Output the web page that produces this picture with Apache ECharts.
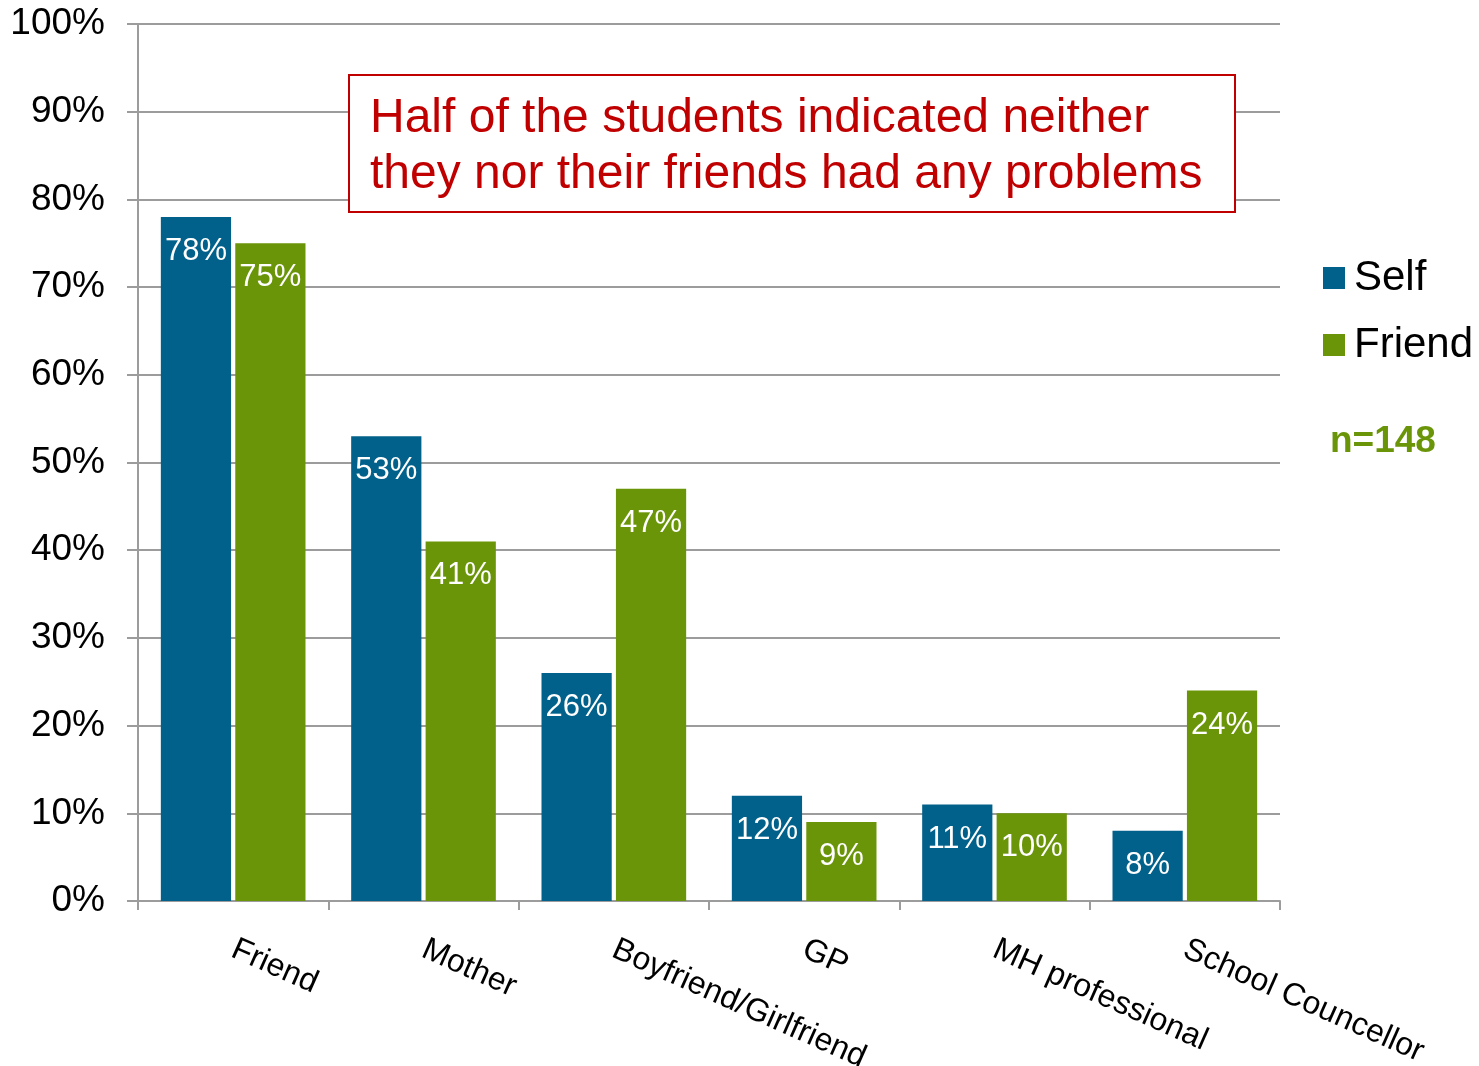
<!DOCTYPE html>
<html>
<head>
<meta charset="utf-8">
<style>
  html, body { margin: 0; padding: 0; background: #ffffff; }
  #chart { width: 1479px; height: 1066px; }
</style>
<script src="https://cdn.jsdelivr.net/npm/echarts@6/dist/echarts.min.js"></script>
</head>
<body>
<div id="chart"></div>
<script>
// Who students would talk to about a problem (percent of respondents)
const categories = ['Friend', 'Mother', 'Boyfriend/Girlfriend', 'GP', 'MH professional', 'School Councellor'];
const selfValues = [78, 53, 26, 12, 11, 8];
const friendValues = [75, 41, 47, 9, 10, 24];
const yTicks = { min: 0, max: 100, interval: 10 };
const note = ['Half of the students indicated neither', 'they nor their friends had any problems'];
const sampleSize = 'n=148';

const FONT = '"Liberation Sans", Arial, sans-serif';
const BLUE = '#02618A';
const GREEN = '#6A9509';
const GRID = '#9c9c9c';

const chart = echarts.init(document.getElementById('chart'), null, { renderer: 'canvas' });

const barLabel = {
  show: true,
  position: 'insideTop',
  distance: 19,
  color: '#ffffff',
  fontFamily: FONT,
  fontSize: 31,
  formatter: p => p.value + '%'
};

chart.setOption({
  animation: false,
  backgroundColor: '#ffffff',
  textStyle: { fontFamily: FONT },
  grid: { left: 138, right: 199, top: 24, bottom: 165, containLabel: false, outerBoundsMode: 'none' },
  legend: {
    orient: 'vertical',
    left: 1323,
    top: 257,
    padding: 0,
    itemWidth: 22,
    itemHeight: 22,
    itemGap: 25,
    icon: 'rect',
    textStyle: { fontFamily: FONT, fontSize: 42, color: '#000000', padding: [0, 0, 0, 4] },
    data: ['Self', 'Friend']
  },
  xAxis: {
    type: 'category',
    data: categories,
    axisLine: { show: true, lineStyle: { color: GRID, width: 2 } },
    axisTick: { show: true, length: 9, lineStyle: { color: GRID, width: 2 } },
    axisLabel: {
      rotate: -24,
      margin: 47,
      interval: 0,
      color: '#000000',
      fontFamily: FONT,
      fontSize: 32
    },
    splitLine: { show: false }
  },
  yAxis: {
    type: 'value',
    min: yTicks.min,
    max: yTicks.max,
    interval: yTicks.interval,
    axisLine: { show: true, lineStyle: { color: GRID, width: 2 } },
    axisTick: { show: true, inside: false, length: 11, lineStyle: { color: GRID, width: 2 } },
    axisLabel: {
      margin: 33,
      color: '#000000',
      fontFamily: FONT,
      fontSize: 37,
      padding: [3, 0, 0, 0],
      formatter: '{value}%'
    },
    splitLine: { show: true, lineStyle: { color: GRID, width: 2 } }
  },
  series: [
    {
      name: 'Self',
      type: 'bar',
      data: selfValues,
      barGap: '6%',
      barCategoryGap: '24%',
      itemStyle: { color: BLUE },
      label: barLabel
    },
    {
      name: 'Friend',
      type: 'bar',
      data: friendValues,
      itemStyle: { color: GREEN },
      label: barLabel
    }
  ],
  graphic: [
    {
      type: 'rect',
      shape: { x: 349, y: 75, width: 886, height: 137 },
      style: { fill: '#ffffff', stroke: '#C00000', lineWidth: 2 },
      z: 100
    },
    {
      type: 'text',
      x: 370, y: 119,
      style: { text: note[0], fill: '#C00000', font: '48px ' + FONT, verticalAlign: 'middle' },
      z: 101
    },
    {
      type: 'text',
      x: 370, y: 175,
      style: { text: note[1], fill: '#C00000', font: '48px ' + FONT, verticalAlign: 'middle' },
      z: 101
    },
    {
      type: 'text',
      x: 1330, y: 442,
      style: { text: sampleSize, fill: '#6A9509', font: 'bold 37px ' + FONT, verticalAlign: 'middle' },
      z: 101
    }
  ]
});
</script>
</body>
</html>
